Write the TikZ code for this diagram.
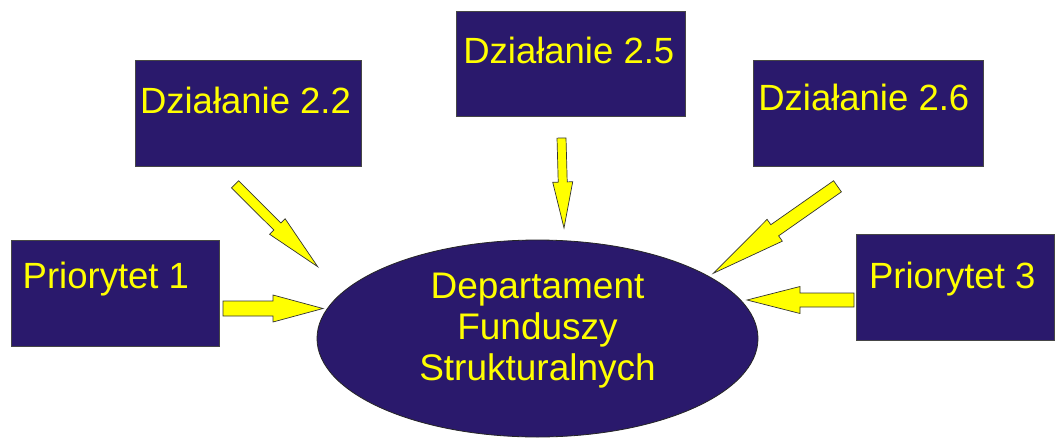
\documentclass[tikz,border=0pt]{standalone}
\usepackage{fontspec}
\setmainfont{Liberation Sans}
\usetikzlibrary{shapes.geometric,calc}
\definecolor{navy}{RGB}{42,25,108}
\definecolor{yel}{RGB}{255,255,0}
\definecolor{edge}{RGB}{70,70,70}
\tikzset{
  box/.style={draw=edge, line width=0.9pt, fill=navy, inner sep=0pt, outer sep=0pt, anchor=north west},
  boxtext/.style={text=yel, inner sep=0pt, outer sep=0pt, anchor=base west, font=\fontsize{36.5}{40}\selectfont},
  ovaltext/.style={text=yel, inner sep=0pt, outer sep=0pt, anchor=base, font=\fontsize{37}{41}\selectfont},
  yarrow/.style={draw=black!80, line width=0.7pt, fill=yel, line join=miter},
}
\newcommand\blockarr[5]{%
  \path ($(#2)!#5!(#1)$) coordinate (hb);
  \draw[yarrow] ($(#1)!#3!90:(#2)$) -- ($(hb)!#3!90:(#2)$) -- ($(hb)!#4!90:(#2)$) -- (#2)
    -- ($(hb)!#4!-90:(#2)$) -- ($(hb)!#3!-90:(#2)$) -- ($(#1)!#3!-90:(#2)$) -- cycle;
}
\begin{document}
\begin{tikzpicture}[x=1pt,y=-1pt]
\useasboundingbox (0,0) rectangle (1055,437);
% boxes
\node[box, minimum width=208pt, minimum height=105.3pt] (p1) at (11,240.7) {};
\node[box, minimum width=226.7pt, minimum height=106pt] (d22) at (135,60.7) {};
\node[box, minimum width=229.7pt, minimum height=105.7pt] (d25) at (456,11) {};
\node[box, minimum width=230pt, minimum height=106pt] (d26) at (753.3,60.7) {};
\node[box, minimum width=197.3pt, minimum height=106.4pt] (p3) at (856.7,234.3) {};
% texts
\node[boxtext] (tp1) at (22.7,288) {Priorytet 1};
\node[boxtext] (t22) at (140,113.3) {Działanie 2.2};
\node[boxtext] (t25) at (463.3,63.3) {Działanie 2.5};
\node[boxtext] (t26) at (758.3,110) {Działanie 2.6};
\node[boxtext] (tp3) at (869,288.3) {Priorytet 3};
% ellipse
\node[ellipse, draw=black!85, line width=0.8pt, fill=navy, inner sep=0pt, outer sep=0pt,
      minimum width=441pt, minimum height=197pt] (dfs) at (537.5,338.5) {};
\node[ovaltext] (l1) at (537.5,298) {Departament};
\node[ovaltext] (l2) at (537.5,339) {Funduszy};
\node[ovaltext] (l3) at (537.5,380) {Strukturalnych};
% arrow end points
\coordinate (a1s) at (223,308.5); \coordinate (a1e) at (323,308.5);
\coordinate (a2s) at (235,184.3); \coordinate (a2e) at (317.7,266.7);
\coordinate (a3s) at (561.5,138); \coordinate (a3e) at (564,228);
\coordinate (a4s) at (837.5,186.3); \coordinate (a4e) at (713.3,273.3);
\coordinate (a5s) at (854,300); \coordinate (a5e) at (747,300);
\blockarr{a1s}{a1e}{7.5pt}{13.5pt}{50pt}
\blockarr{a2s}{a2e}{5pt}{11pt}{57pt}
\blockarr{a3s}{a3e}{4.5pt}{10pt}{46pt}
\blockarr{a4s}{a4e}{6.8pt}{13.3pt}{75pt}
\blockarr{a5s}{a5e}{7pt}{13.5pt}{53pt}
\end{tikzpicture}
\end{document}
